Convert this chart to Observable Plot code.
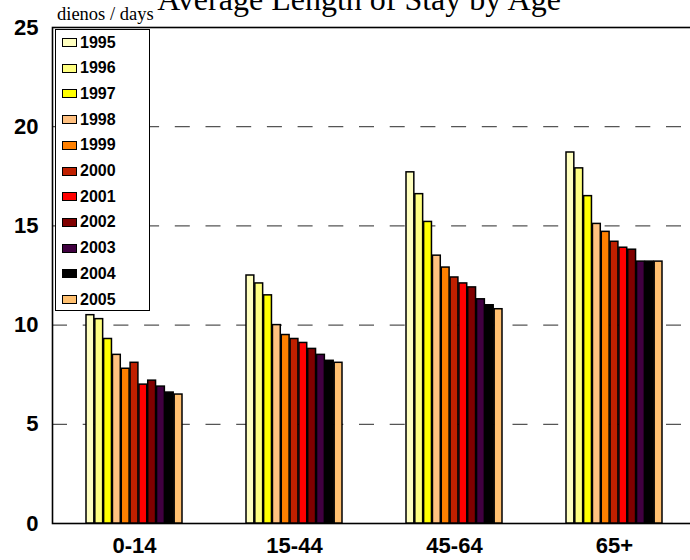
<!DOCTYPE html>
<html>
<head>
<meta charset="utf-8">
<script src="https://cdn.jsdelivr.net/npm/d3@7"></script>
<script src="https://cdn.jsdelivr.net/npm/@observablehq/plot@0.6"></script>
<style>
  html, body { margin: 0; padding: 0; background: #fff; overflow: hidden; }
  #chart { position: relative; width: 690px; height: 560px; overflow: hidden; background: #fff; }
  #chart svg { position: absolute; left: 0; top: 0; max-width: none !important; }
  .title { position: absolute; left: 0; top: 0; width: 718px; text-align: center;
           font-family: "Liberation Serif", "Times New Roman", serif; font-size: 32px; line-height: 1;
           margin-top: -17px; white-space: nowrap; }
  .unit { position: absolute; left: 57px; top: 5px; font-family: "Liberation Serif", "Times New Roman", serif;
          font-size: 18.5px; line-height: 1; white-space: nowrap; }
  .legend { position: absolute; left: 55px; top: 29px; width: 93px; height: 280px;
            border: 1.5px solid #000; background: #fff; box-sizing: content-box; }
  .legend .row { position: absolute; left: 6px; height: 18px; display: flex; align-items: center;
                 font-family: "Liberation Sans", Arial, sans-serif; font-weight: bold; font-size: 16px; }
  .legend .sw { width: 13px; height: 7px; border: 1.5px solid #000; margin-right: 3px; }
</style>
</head>
<body>
<div id="chart"></div>
<script>
const ages = ["0-14", "15-44", "45-64", "65+"];
const years = ["1995","1996","1997","1998","1999","2000","2001","2002","2003","2004","2005"];
const colors = ["#FFFFC0","#FFFF80","#FFFF00","#FFC080","#FF8000","#C02000","#FF0000","#800000","#400040","#000000","#FFC070"];
const v0_14  = [10.5, 10.3, 9.3, 8.5, 7.8, 8.1, 7.0, 7.2, 6.9, 6.6, 6.5];
const v15_44 = [12.5, 12.1, 11.5, 10.0, 9.5, 9.3, 9.1, 8.8, 8.5, 8.2, 8.1];
const v45_64 = [17.7, 16.6, 15.2, 13.5, 12.9, 12.4, 12.1, 11.9, 11.3, 11.0, 10.8];
const v65    = [18.7, 17.9, 16.5, 15.1, 14.7, 14.2, 13.9, 13.8, 13.2, 13.2, 13.2];
const yTicks = [0, 5, 10, 15, 20, 25];
const gridTicks = [5, 10, 15, 20];
const titleText = "Average Length of Stay by Age";
const unitText = "dienos / days";

const series = [v0_14, v15_44, v45_64, v65];
const data = [];
ages.forEach((a, i) => years.forEach((y, j) => data.push({age: a, year: y, value: series[i][j]})));

// the original chart's plot area runs a little past the right edge of the picture
const W = 700, H = 560;
const xRange = [52, 696];
const padIn = 0.3975, padOut = 0.199;
// width of one group's band, derived from the scale settings
const bandW = (xRange[1] - xRange[0]) / (ages.length - padIn + 2 * padOut) * (1 - padIn);
const slot = bandW / years.length;

const barMarks = years.map((y, j) => Plot.barY(data.filter(d => d.year === y), {
  x: "age", y: "value", fill: colors[j], stroke: "#000", strokeWidth: 1.5,
  insetLeft: j * slot, insetRight: (years.length - 1 - j) * slot
}));

const plot = Plot.plot({
  width: W, height: H, marginLeft: 52, marginRight: 4, marginTop: 27, marginBottom: 37,
  style: {background: "white", maxWidth: "none", fontFamily: "'Liberation Sans', Arial, sans-serif", fontWeight: "bold", fontSize: "22px", color: "#000"},
  x: {domain: ages, range: xRange, paddingInner: padIn, paddingOuter: padOut, tickSize: 0, tickPadding: 14, label: null},
  y: {domain: [0, 25], ticks: yTicks, tickSize: 0, tickPadding: 14, label: null, tickFormat: d => String(d)},
  marks: [
    Plot.ruleY(gridTicks, {stroke: "#555", strokeWidth: 1.3, strokeDasharray: "15,15.7"}),
    Plot.frame({stroke: "#000", strokeWidth: 1.6}),
    ...barMarks
  ]
});

const chart = document.getElementById("chart");
chart.appendChild(plot);

const t = document.createElement("div");
t.className = "title"; t.textContent = titleText;
chart.appendChild(t);

const u = document.createElement("div");
u.className = "unit"; u.textContent = unitText;
chart.appendChild(u);

const lg = document.createElement("div");
lg.className = "legend";
years.forEach((y, i) => {
  const r = document.createElement("div");
  r.className = "row";
  r.style.top = (3.5 + i * 25.7) + "px";
  const s = document.createElement("div");
  s.className = "sw"; s.style.background = colors[i];
  const tx = document.createElement("span");
  tx.textContent = y;
  r.appendChild(s); r.appendChild(tx);
  lg.appendChild(r);
});
chart.appendChild(lg);
</script>
</body>
</html>
